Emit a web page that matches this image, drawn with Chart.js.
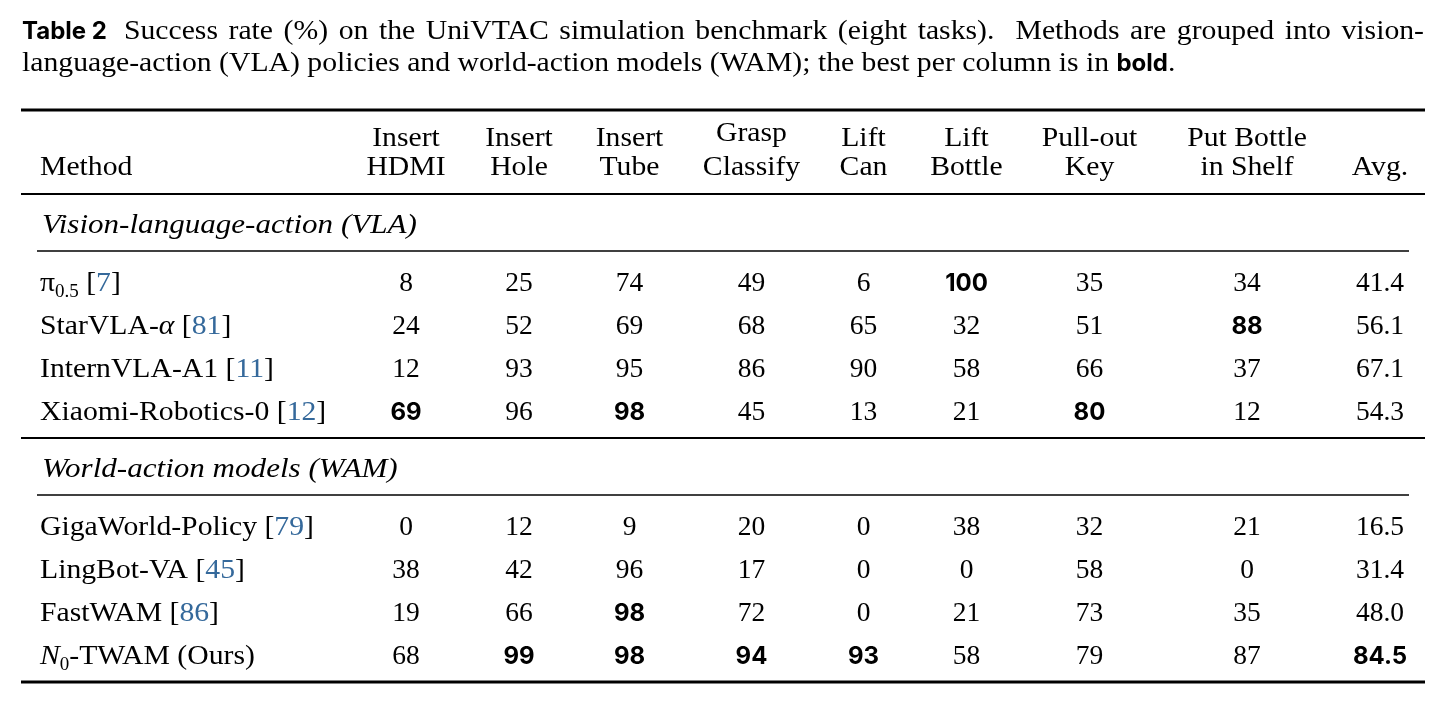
<!DOCTYPE html>
<html><head><meta charset="utf-8">
<script src="https://cdn.jsdelivr.net/npm/chart.js@4.4.1/dist/chart.umd.min.js"></script>
<style>html,body{margin:0;padding:0;background:#fff;overflow:hidden}</style>
</head><body>
<canvas id="c" width="1445" height="702"></canvas>
<script>
// ---------------- data ----------------
const captionLabel = 'Table 2';
const captionLine1 = 'Success rate (%) on the UniVTAC simulation benchmark (eight tasks).  Methods are grouped into vision-';
const captionLine2 = 'language-action (VLA) policies and world-action models (WAM); the best per column is in';
const captionBold = 'bold';
const captionEnd = '.';

const methodHeader = 'Method';
const avgHeader = 'Avg.';
const taskHeaders = [
  ['Insert', 'HDMI'], ['Insert', 'Hole'], ['Insert', 'Tube'], ['Grasp', 'Classify'],
  ['Lift', 'Can'], ['Lift', 'Bottle'], ['Pull-out', 'Key'], ['Put Bottle', 'in Shelf']
];
const groupTitles = ['Vision-language-action (VLA)', 'World-action models (WAM)'];
const methods = ['π_{0.5}', 'StarVLA-$α$', 'InternVLA-A1', 'Xiaomi-Robotics-0',
                 'GigaWorld-Policy', 'LingBot-VA', 'FastWAM', '$N$_{0}-TWAM (Ours)'];
const citations = ['7', '81', '11', '12', '79', '45', '86', ''];
const methodGroup = [0, 0, 0, 0, 1, 1, 1, 1];

const insertHDMI    = [8, 24, 12, 69, 0, 38, 19, 68];
const insertHole    = [25, 52, 93, 96, 12, 42, 66, 99];
const insertTube    = [74, 69, 95, 98, 9, 96, 98, 98];
const graspClassify = [49, 68, 86, 45, 20, 17, 72, 94];
const liftCan       = [6, 65, 90, 13, 0, 0, 0, 93];
const liftBottle    = [100, 32, 58, 21, 38, 0, 21, 58];
const pullOutKey    = [35, 51, 66, 80, 32, 58, 73, 79];
const putBottle     = [34, 88, 37, 12, 21, 0, 35, 87];
const average       = [41.4, 56.1, 67.1, 54.3, 16.5, 31.4, 48.0, 84.5];

const valueColumns = [insertHDMI, insertHole, insertTube, graspClassify, liftCan, liftBottle, pullOutKey, putBottle, average];
const valueDecimals = [0, 0, 0, 0, 0, 0, 0, 0, 1];

// ---------------- layout / style ----------------
const COL_W = [327, 116, 110, 111, 133, 91, 115, 131, 184, 86];   // column widths (px units)
const CELL_PAD = 19;           // \tabcolsep
const CMID_TRIM = 16;
const AVG_SHIFT = -2;          // avg column content sits slightly left
const HDR_TOP = 27, HDR_GAP = 29, HDR_DESC = 5.5, HDR_TO_RULE = 28;
const RULE_TO_TITLE = 30, TITLE_TO_CMID = 27, CMID_TO_ROW = 31, ROW_STEP = 43, ROW_TO_RULE = 27;

const SERIF = '"Liberation Serif","Times New Roman",serif';
const SANS = 'Inter, "Liberation Sans", sans-serif';
const FS = 27.5, SUB_FS = 19, SX = 1.08, SX_TITLE = 1.13;
const F_RM = `${FS}px ${SERIF}`;
const F_IT = `italic ${FS}px ${SERIF}`;
const F_SUB = `${SUB_FS}px ${SERIF}`;
const F_BOLD = `700 24px ${SANS}`;
const F_CAP_BOLD = `700 24px ${SANS}`;
const INK = '#000', CITE = '#35699b';
const SERIF_BASE = 9.3, BOLD_BASE = 8.8;

// column positions in table units
const colLeft = []; let acc = 0;
COL_W.forEach(w => { colLeft.push(acc); acc += w; });
const TABLE_W = acc;
const colCenter = COL_W.map((w, i) => colLeft[i] + w / 2 + (i === COL_W.length - 1 ? AVG_SHIFT : 0));

// row positions in table units (0 = top rule)
const rules = [];
let y = 0;
rules.push({ y: 0, w: 3, trim: 0 });
const hdrLine1 = HDR_TOP, hdrLine2 = HDR_TOP + HDR_GAP;
y = hdrLine2 + HDR_TO_RULE;
rules.push({ y, w: 2, trim: 0 });
const titleY = [], rowY = [];
groupTitles.forEach((g, gi) => {
  if (gi > 0) { y += ROW_TO_RULE; rules.push({ y, w: 2, trim: 0 }); }
  y += RULE_TO_TITLE; titleY.push(y);
  y += TITLE_TO_CMID; rules.push({ y, w: 1.4, trim: CMID_TRIM });
  y += CMID_TO_ROW;
  let first = true;
  methods.forEach((m, mi) => {
    if (methodGroup[mi] !== gi) return;
    if (!first) y += ROW_STEP;
    first = false;
    rowY[mi] = y;
  });
});
y += ROW_TO_RULE;
rules.push({ y, w: 3, trim: 0 });
const TABLE_H = y;

// ---------------- rich text helpers ----------------
function parseRich(s) {
  const runs = []; let i = 0;
  while (i < s.length) {
    if (s[i] === '$') { const j = s.indexOf('$', i + 1); runs.push({ t: s.slice(i + 1, j), k: 'it' }); i = j + 1; }
    else if (s.startsWith('_{', i)) { const j = s.indexOf('}', i); runs.push({ t: s.slice(i + 2, j), k: 'sub' }); i = j + 1; }
    else { let j = i; while (j < s.length && s[j] !== '$' && !s.startsWith('_{', j)) j++; runs.push({ t: s.slice(i, j), k: 'rm' }); i = j; }
  }
  return runs.map(r => r.k === 'it' ? { t: r.t, font: F_IT, sx: SX }
                    : r.k === 'sub' ? { t: r.t, font: F_SUB, sx: 1, dy: 6 }
                    : { t: r.t, font: F_RM, sx: SX });
}
function rmRuns(t) { return [{ t, font: F_RM, sx: SX }]; }
function runWidth(ctx, r) { ctx.font = r.font; return ctx.measureText(r.t).width * (r.sx || 1); }
function drawRuns(ctx, runs, x, base, align) {
  let total = 0; runs.forEach(r => total += runWidth(ctx, r));
  let cx = align === 'center' ? x - total / 2 : x;
  runs.forEach(r => {
    const w = runWidth(ctx, r);
    ctx.save();
    ctx.font = r.font; ctx.fillStyle = r.color || INK; ctx.textBaseline = 'alphabetic'; ctx.textAlign = 'left';
    ctx.translate(cx, base + (r.dy || 0)); ctx.scale(r.sx || 1, 1);
    ctx.fillText(r.t, 0, 0);
    ctx.restore();
    cx += w;
  });
  return total;
}

// ---------------- datasets ----------------
const datasets = [];
rules.forEach(r => datasets.push({
  type: 'line', data: [{ x: r.trim, y: r.y }, { x: TABLE_W - r.trim, y: r.y }],
  borderColor: '#000', borderWidth: r.w, pointRadius: 0, showLine: true, clip: false, borderCapStyle: 'butt'
}));

// header
const hdrPts = [], hdrCells = [];
hdrPts.push({ x: CELL_PAD, y: hdrLine2 }); hdrCells.push({ runs: rmRuns(methodHeader), align: 'left', base: SERIF_BASE });
taskHeaders.forEach((lines, i) => {
  const desc = /[gjpqy]/.test(lines[0]) ? HDR_DESC : 0;
  hdrPts.push({ x: colCenter[i + 1], y: hdrLine1 - desc }); hdrCells.push({ runs: rmRuns(lines[0]), align: 'center', base: SERIF_BASE });
  hdrPts.push({ x: colCenter[i + 1], y: hdrLine2 }); hdrCells.push({ runs: rmRuns(lines[1]), align: 'center', base: SERIF_BASE });
});
hdrPts.push({ x: colCenter[COL_W.length - 1], y: hdrLine2 }); hdrCells.push({ runs: rmRuns(avgHeader), align: 'center', base: SERIF_BASE });
datasets.push({ type: 'scatter', data: hdrPts, cells: hdrCells, pointRadius: 0 });

// group titles
datasets.push({ type: 'scatter', pointRadius: 0,
  data: groupTitles.map((g, i) => ({ x: CELL_PAD + 2, y: titleY[i] })),
  cells: groupTitles.map(g => ({ runs: [{ t: g, font: F_IT, sx: SX_TITLE }], align: 'left', base: SERIF_BASE })) });

// method names
datasets.push({ type: 'scatter', pointRadius: 0,
  data: methods.map((m, i) => ({ x: CELL_PAD, y: rowY[i] })),
  cells: methods.map((m, i) => {
    const runs = parseRich(m);
    if (citations[i]) runs.push({ t: ' [', font: F_RM, sx: SX }, { t: citations[i], font: F_RM, sx: SX, color: CITE }, { t: ']', font: F_RM, sx: SX });
    return { runs, align: 'left', base: SERIF_BASE };
  }) });

// value columns
valueColumns.forEach((vals, c) => {
  const best = Math.max(...vals);
  datasets.push({ type: 'scatter', pointRadius: 0,
    data: vals.map((v, i) => ({ x: colCenter[c + 1], y: rowY[i] })),
    cells: vals.map(v => {
      const txt = v.toFixed(valueDecimals[c]);
      const bold = v === best;
      return { runs: [{ t: txt, font: bold ? F_BOLD : F_RM, sx: 1 }], align: 'center', base: bold ? BOLD_BASE : SERIF_BASE };
    }) });
});

// ---------------- text plugin ----------------
const tableText = {
  id: 'tableText',
  afterDatasetsDraw(chart) {
    const ctx = chart.ctx;
    chart.data.datasets.forEach((ds, di) => {
      if (!ds.cells) return;
      chart.getDatasetMeta(di).data.forEach((el, i) => {
        const cell = ds.cells[i];
        drawRuns(ctx, cell.runs, el.x, el.y + cell.base, cell.align);
      });
    });
    // caption
    const left = chart.chartArea.left + 1, right = chart.chartArea.right - 1;
    const base1 = 39, base2 = 71;
    ctx.save();
    ctx.font = F_CAP_BOLD; ctx.fillStyle = INK; ctx.textBaseline = 'alphabetic'; ctx.textAlign = 'left';
    ctx.fillText(captionLabel, left, base1);
    const labW = ctx.measureText(captionLabel).width;
    ctx.restore();
    const start = left + labW + 17;
    const words = captionLine1.split(' ');
    const ws = words.map(w => w === '' ? 0 : runWidth(ctx, { t: w, font: F_RM, sx: SX }));
    const sum = ws.reduce((a, b) => a + b, 0);
    const gap = (right - start - sum) / (words.length - 1);
    let cx = start;
    words.forEach((w, i) => { if (w) drawRuns(ctx, rmRuns(w), cx, base1, 'left'); cx += ws[i] + gap; });
    drawRuns(ctx, [{ t: captionLine2 + ' ', font: F_RM, sx: SX }, { t: captionBold, font: F_CAP_BOLD, sx: 1 }, { t: captionEnd, font: F_RM, sx: SX }], left, base2, 'left');
  }
};

new Chart(document.getElementById('c'), {
  type: 'scatter',
  data: { datasets },
  options: {
    responsive: false, animation: false, devicePixelRatio: 1,
    layout: { padding: { left: 21, right: 20, top: 110, bottom: 702 - 110 - TABLE_H } },
    plugins: { legend: { display: false }, tooltip: { enabled: false }, title: { display: false } },
    scales: {
      x: { type: 'linear', min: 0, max: TABLE_W, display: false },
      y: { type: 'linear', min: 0, max: TABLE_H, reverse: true, display: false }
    },
    events: []
  },
  plugins: [tableText]
});
</script>
</body></html>
